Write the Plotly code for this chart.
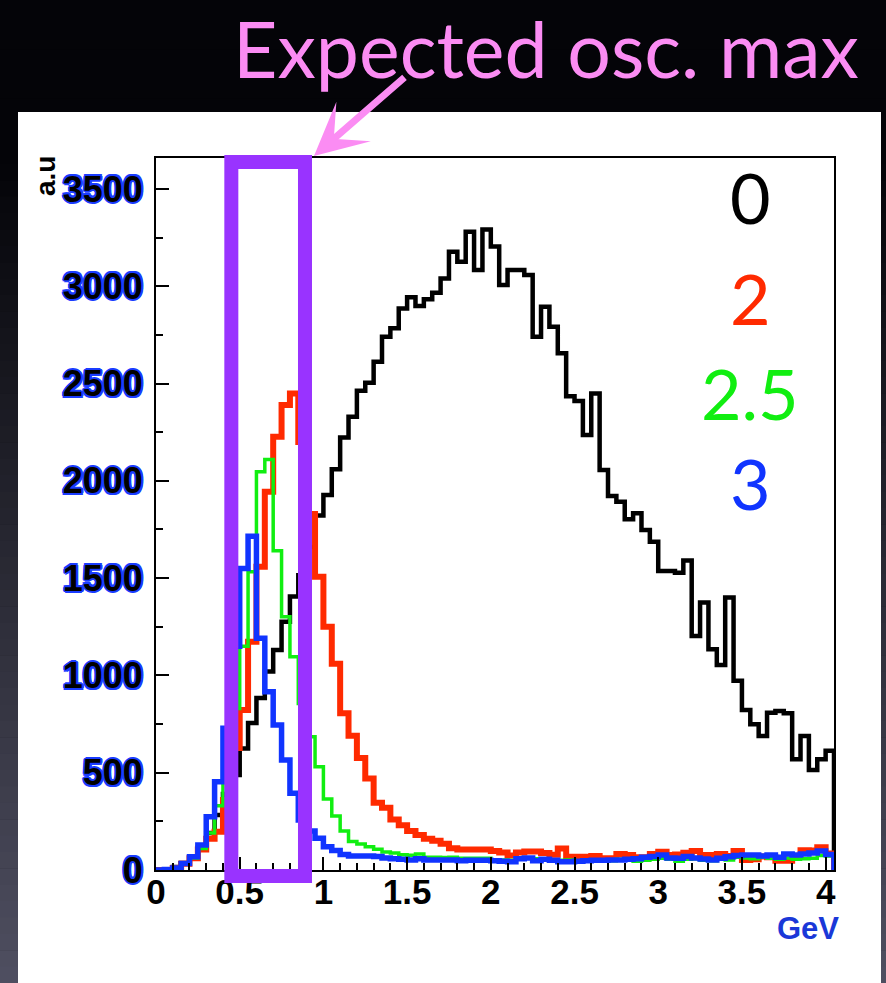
import plotly.graph_objects as go

# ---------------------------------------------------------------------------
# Histogram contents: 81 bins of 0.05 GeV from 0 to 4.05 GeV
# ---------------------------------------------------------------------------
BIN_WIDTH = 0.05
N_BINS = 81

SERIES_LABELS = ["0", "2", "2.5", "3"]

counts_0 = [
    0, 0, 15, 36, 60, 115, 190, 283, 390, 488,
    625, 755, 884, 1020, 1130, 1276, 1405, 1515, 1660, 1822,
    1927, 2059, 2223, 2329, 2463, 2504, 2612, 2741, 2784, 2886,
    2943, 2898, 2933, 2967, 3040, 3177, 3126, 3280, 3083, 3292,
    3204, 3006, 3083, 3083, 3058, 2741, 2895, 2792, 2655, 2434,
    2410, 2235, 2449, 2055, 1922, 1893, 1802, 1833, 1747, 1687,
    1536, 1536, 1528, 1590, 1202, 1375, 1134, 1053, 1400, 973,
    822, 749, 689, 808, 817, 805, 569, 689, 514, 569,
    613,
]

counts_2 = [
    0, 0, 10, 32, 60, 105, 160, 197, 360, 627,
    822, 1173, 1559, 1944, 2227, 2390, 2449, 2200, 1830, 1507,
    1250, 1060, 806, 690, 575, 470, 345, 320, 260, 230,
    200, 180, 160, 150, 135, 112, 105, 105, 105, 105,
    98, 90, 75, 90, 95, 95, 88, 78, 110, 68,
    68, 68, 72, 60, 60, 82, 77, 65, 65, 82,
    94, 77, 80, 89, 97, 77, 77, 82, 72, 97,
    52, 55, 70, 65, 48, 48, 70, 102, 100, 117,
    85,
]

counts_2p5 = [
    0, 0, 10, 32, 62, 110, 190, 330, 560, 830,
    1150, 1533, 2047, 2110, 1640, 1302, 1096, 856, 685, 531,
    365, 278, 200, 146, 134, 120, 106, 92, 88, 78,
    76, 82, 66, 65, 64, 65, 60, 60, 60, 60,
    52, 51, 50, 60, 60, 58, 52, 50, 50, 52,
    48, 50, 48, 50, 47, 55, 52, 45, 50, 55,
    60, 55, 45, 55, 58, 50, 48, 55, 52, 65,
    62, 58, 65, 60, 55, 62, 55, 58, 60, 75,
    72,
]

counts_3 = [
    0, 3, 10, 34, 68, 128, 274, 454, 728, 1150,
    1550, 1715, 1191, 916, 745, 565, 394, 257, 200, 163,
    120, 100, 80, 72, 72, 72, 70, 62, 58, 55,
    52, 58, 52, 51, 51, 51, 48, 50, 50, 50,
    48, 45, 43, 58, 62, 47, 55, 50, 43, 43,
    45, 47, 50, 50, 52, 52, 55, 58, 65, 70,
    77, 62, 60, 70, 62, 56, 52, 60, 68, 74,
    77, 77, 72, 77, 65, 82, 77, 82, 88, 98,
    80,
]

X_TICKS = [0, 0.5, 1, 1.5, 2, 2.5, 3, 3.5, 4]
Y_TICKS = [0, 500, 1000, 1500, 2000, 2500, 3000, 3500]

# window highlighted as the expected oscillation maximum (GeV)
OSC_WINDOW = (0.45, 0.89)

X_MAX = BIN_WIDTH * N_BINS
Y_MAX = 3659

# ---------------------------------------------------------------------------
# Page geometry
# ---------------------------------------------------------------------------
W, H = 886, 983
M_L, M_R, M_T, M_B = 156, 52, 158, 113
PW, PH = W - M_L - M_R, H - M_T - M_B


def px_x(px):
    return (px - M_L) / PW


def px_y(py):
    return (H - M_B - py) / PH


edges = [round(i * BIN_WIDTH, 4) for i in range(N_BINS + 1)]


def step_xy(counts):
    xs = [0.0] + edges[:-1] + [edges[-1], edges[-1]]
    ys = [0] + list(counts) + [counts[-1], 0]
    return xs, ys


COLORS = ["#000000", "#ff2a00", "#11ee11", "#1034ff"]
WIDTHS = [4.5, 6, 3.5, 5.5]
SERIES = [counts_0, counts_2, counts_2p5, counts_3]

fig = go.Figure()
for lab, cnt, col, lw in zip(SERIES_LABELS, SERIES, COLORS, WIDTHS):
    xs, ys = step_xy(cnt)
    fig.add_trace(go.Scatter(
        x=xs, y=ys, mode="lines", name=lab,
        line=dict(color=col, width=lw, shape="hv"),
        hoverinfo="skip",
    ))

shapes = []
# dark slide background, fading to grey-blue towards the bottom
N_STRIPS = 60
for i in range(N_STRIPS):
    y0 = H * i / N_STRIPS
    y1 = H * (i + 1) / N_STRIPS
    t = max(0.0, (y0 - 150) / (H - 150))
    c = (int(4 + 76 * t), int(4 + 76 * t), int(8 + 90 * t))
    shapes.append(dict(
        type="rect", xref="paper", yref="paper", layer="below",
        x0=px_x(0), x1=px_x(W), y0=px_y(y1 + 0.5), y1=px_y(y0),
        fillcolor="rgb(%d,%d,%d)" % c, line=dict(width=0),
    ))
# white canvas behind the histogram
shapes.append(dict(
    type="rect", xref="paper", yref="paper", layer="below",
    x0=px_x(18), x1=px_x(881), y0=px_y(H + 2), y1=px_y(112),
    fillcolor="white", line=dict(width=0),
))
# oscillation-maximum window
shapes.append(dict(
    type="rect", xref="x", yref="paper", layer="above",
    x0=OSC_WINDOW[0], x1=OSC_WINDOW[1], y0=px_y(876), y1=px_y(162),
    line=dict(color="#9933ff", width=14), fillcolor="rgba(0,0,0,0)",
))

annotations = [
    dict(text="Expected osc. max", xref="paper", yref="paper",
         x=px_x(546), y=px_y(0), xanchor="center", yanchor="top",
         showarrow=False, font=dict(family="Lato", size=77, color="#fb8cf3")),
    dict(text="", xref="paper", yref="paper", x=px_x(314), y=px_y(156),
         ax=92, ay=-80, showarrow=True, arrowhead=3, arrowsize=1.25,
         arrowwidth=7, arrowcolor="#fb8cf3"),
    dict(text="a.u", xref="paper", yref="paper", x=px_x(45), y=px_y(176),
         textangle=-90, showarrow=False, xanchor="center", yanchor="middle",
         font=dict(family="Liberation Sans", size=28, color="black", weight="bold")),
    dict(text="GeV", xref="paper", yref="paper", x=px_x(841), y=px_y(928),
         xanchor="right", yanchor="middle", showarrow=False,
         font=dict(family="Liberation Sans", size=31, color="#1a38d8", weight="bold")),
]
label_y = [197, 298, 393, 483]
for lab, col, yy in zip(SERIES_LABELS, COLORS, label_y):
    annotations.append(dict(
        text=lab, xref="paper", yref="paper", x=px_x(750), y=px_y(yy),
        xanchor="center", yanchor="middle", showarrow=False,
        font=dict(family="Lato", size=70, color=col),
    ))

outline = ", ".join(
    "%spx %spx 0 #1a3cff" % (dx, dy)
    for dx, dy in [(2, 0), (-2, 0), (0, 2), (0, -2), (1.5, 1.5), (-1.5, -1.5), (1.5, -1.5), (-1.5, 1.5)]
)

fig.update_layout(
    width=W, height=H,
    margin=dict(l=M_L, r=M_R, t=M_T, b=M_B, pad=0),
    paper_bgcolor="black", plot_bgcolor="white",
    showlegend=False,
    shapes=shapes, annotations=annotations,
    xaxis=dict(
        range=[0, X_MAX], tickvals=X_TICKS, ticktext=[("%g" % v) for v in X_TICKS],
        ticks="inside", ticklen=13, tickwidth=2, tickcolor="black",
        minor=dict(dtick=0.1, tick0=0, ticks="inside", ticklen=7, tickwidth=2, tickcolor="black"),
        showline=True, linecolor="black", linewidth=2, mirror=True,
        showgrid=False, zeroline=False, ticklabelstandoff=-10,
        tickfont=dict(family="Liberation Sans", size=35, color="black", weight="bold"),
    ),
    yaxis=dict(
        range=[0, Y_MAX], tickvals=Y_TICKS,
        ticks="inside", ticklen=13, tickwidth=2, tickcolor="black",
        minor=dict(dtick=250, tick0=0, ticks="inside", ticklen=7, tickwidth=2, tickcolor="black"),
        showline=True, linecolor="black", linewidth=2, mirror=True,
        showgrid=False, zeroline=False, ticklabelstandoff=4,
        tickfont=dict(family="Liberation Sans", size=36, color="black", weight="bold",
                      shadow=outline),
    ),
)

fig.write_html("out.html")
